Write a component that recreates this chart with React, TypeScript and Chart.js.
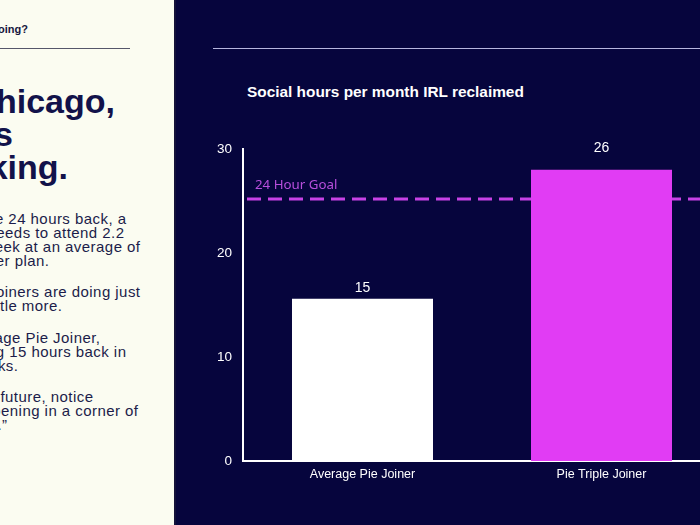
import React, { useEffect, useRef } from "react";
import { Chart, registerables } from "chart.js";

Chart.register(...registerables);

// ---- data ----
const categories = ["Average Pie Joiner", "Pie Triple Joiner"];
const hoursReclaimed = [15.6, 28];
const valueLabels = ["15", "26"];
const goalValue = 25.2;
const goalLabel = "24 Hour Goal";
const yTicks = [0, 10, 20, 30];
const chartTitle = "Social hours per month IRL reclaimed";
const kickerText = "oing?";
const headlineLines = ["hicago,", "s", "king."];
const bodyLines = [
  "e 24 hours back, a",
  "eeds to attend 2.2",
  " eek at an average of",
  "er plan.",
  "oiners are doing just",
  "ttle more.",
  "rage Pie Joiner,",
  "g 15 hours back in",
  "ks.",
  " future, notice",
  "pening in a corner of",
  ".\u201d",
];

// ---- layout (positions only) ----
const bodyBaselines = [224, 238, 252, 266, 297, 311, 343, 357, 371, 402, 416, 430];
const bodyRights = [126, 124, 140, 49, 140, 62, 100, 126, 18, 93, 138, 7];
const headlineBaselines = [113, 146, 179];
const headlineRights = [115, 13, 68];
const PANEL_W = 174;
const FONT = "'Liberation Sans', Arial, Helvetica, sans-serif";

const barColors = ["#ffffff", "#e13cf4"];
const labelGaps = [11, 22];

function TextLine(props: { text: string; baseline: number; right: number; size: number; weight?: number; color: string; spacing?: number }) {
  const { text, baseline, right, size, weight, color, spacing } = props;
  return (
    <div
      style={{
        position: "absolute",
        top: baseline - 0.8465 * size,
        right: PANEL_W - right - (spacing || 0),
        fontSize: size,
        lineHeight: `${size}px`,
        fontWeight: weight || 400,
        color,
        whiteSpace: "pre",
        textAlign: "right",
        letterSpacing: spacing ? `${spacing}px` : undefined,
        fontFamily: FONT,
      }}
    >
      {text}
    </div>
  );
}

const goalPlugin = {
  id: "goalLine",
  beforeDatasetsDraw(chart: any) {
    const { ctx, chartArea, scales } = chart;
    const y = scales.y.getPixelForValue(goalValue);
    ctx.save();
    ctx.strokeStyle = "#c742e6";
    ctx.lineWidth = 3;
    ctx.setLineDash([14, 7]);
    ctx.beginPath();
    ctx.moveTo(chartArea.left + 4, y);
    ctx.lineTo(chartArea.right + 40, y);
    ctx.stroke();
    ctx.setLineDash([]);
    ctx.fillStyle = "#b84fdd";
    ctx.font = "13.3px 'Noto Sans', 'Open Sans', sans-serif";
    ctx.textAlign = "left";
    ctx.textBaseline = "alphabetic";
    ctx.fillText(goalLabel, chartArea.left + 12, y - 10);
    ctx.restore();
  },
};

const valueLabelPlugin = {
  id: "valueLabels",
  afterDatasetsDraw(chart: any) {
    const { ctx } = chart;
    const meta = chart.getDatasetMeta(0);
    ctx.save();
    ctx.fillStyle = "#ffffff";
    ctx.font = `14px ${FONT}`;
    ctx.textAlign = "center";
    ctx.textBaseline = "middle";
    meta.data.forEach((bar: any, i: number) => {
      ctx.fillText(valueLabels[i], bar.x, bar.y - labelGaps[i]);
    });
    ctx.restore();
  },
};

export default function App() {
  const canvasRef = useRef<HTMLCanvasElement | null>(null);

  useEffect(() => {
    if (!canvasRef.current) return;
    const chart = new Chart(canvasRef.current, {
      type: "bar",
      data: {
        labels: categories,
        datasets: [
          {
            data: hoursReclaimed,
            backgroundColor: barColors,
            borderWidth: 0,
            categoryPercentage: 1,
            barPercentage: 0.59,
          },
        ],
      },
      options: {
        responsive: false,
        animation: false,
        layout: { padding: { top: 29, right: 0, left: 0, bottom: 0 } },
        plugins: {
          legend: { display: false },
          tooltip: { enabled: false },
          title: { display: false },
        },
        scales: {
          x: {
            offset: true,
            grid: { display: false, drawTicks: false },
            border: { display: true, color: "#ffffff", width: 2 },
            ticks: {
              color: "#ffffff",
              font: { family: FONT, size: 12.5 },
              padding: 6,
              maxRotation: 0,
            },
            afterFit: (s: any) => {
              s.height = 59;
            },
          },
          y: {
            min: 0,
            max: 30,
            grid: { display: false, drawTicks: false },
            border: { display: true, color: "#ffffff", width: 2 },
            ticks: {
              color: "#ffffff",
              font: { family: FONT, size: 13.5 },
              padding: 11,
            },
            afterBuildTicks: (s: any) => {
              s.ticks = yTicks.map((v) => ({ value: v }));
            },
            afterFit: (s: any) => {
              s.width = 68;
            },
          },
        },
      },
      plugins: [goalPlugin, valueLabelPlugin],
    });
    return () => chart.destroy();
  }, []);

  return (
    <div
      style={{
        position: "fixed",
        left: 0,
        top: 0,
        width: 700,
        height: 525,
        overflow: "hidden",
        fontFamily: FONT,
        background: "#06053d",
      }}
    >
      {/* left cream panel */}
      <div
        style={{
          position: "absolute",
          left: 0,
          top: 0,
          width: PANEL_W,
          height: 525,
          background: "#fbfcf1",
          overflow: "hidden",
        }}
      >
        <TextLine text={kickerText} baseline={33} right={28} size={11} weight={700} color="#16163e" />
        <div style={{ position: "absolute", left: 0, top: 48, width: 130, height: 1, background: "#55566a" }} />
        {headlineLines.map((t, i) => (
          <TextLine key={"h" + i} text={t} baseline={headlineBaselines[i]} right={headlineRights[i]} size={34} weight={700} color="#12124a" />
        ))}
        {bodyLines.map((t, i) => (
          <TextLine key={"b" + i} text={t} baseline={bodyBaselines[i]} right={bodyRights[i]} size={15} color="#1c1c4a" spacing={0.45} />
        ))}
      </div>
      <div style={{ position: "absolute", left: PANEL_W, top: 0, width: 2, height: 525, background: "#14123a" }} />
      {/* right panel rule and title */}
      <div style={{ position: "absolute", left: 213, top: 48, width: 487, height: 1, background: "#b6b6de" }} />
      <div
        style={{
          position: "absolute",
          left: 247,
          top: 97 - 0.8465 * 15.4,
          fontSize: 15.4,
          lineHeight: "15.4px",
          fontWeight: 700,
          color: "#ffffff",
          whiteSpace: "nowrap",
        }}
      >
        {chartTitle}
      </div>
      <canvas
        ref={canvasRef}
        width={546}
        height={400}
        style={{ position: "absolute", left: 175, top: 120, width: 546, height: 400 }}
      />
    </div>
  );
}
